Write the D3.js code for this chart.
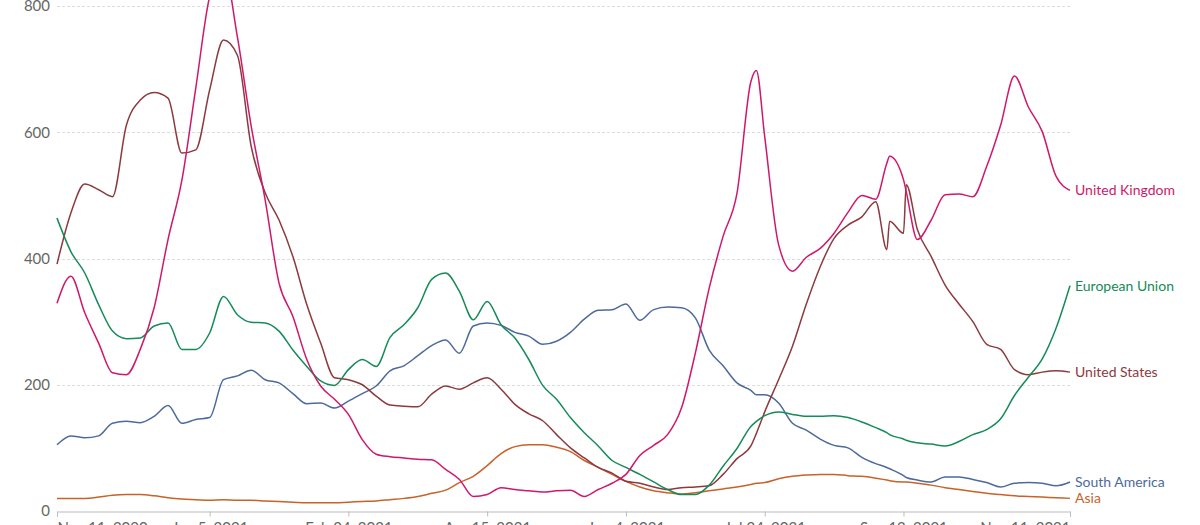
<!DOCTYPE html>
<html>
<head>
<meta charset="utf-8">
<script src="https://cdn.jsdelivr.net/npm/d3@7"></script>
<style>
  html, body { margin: 0; padding: 0; background: #fff; }
  svg { display: block; font-family: Lato, "Noto Sans", sans-serif; }
</style>
</head>
<body>
<svg id="chart" width="1200" height="525"></svg>
<script>
// Days after 2020-11-11
const startDate = "2020-11-11";
const dayOffsets = [
  0,5,10,15,20,25,30,35,40,45,50,55,60,65,70,75,80,85,90,95,
  100,105,110,115,120,125,130,135,140,145,150,155,160,165,170,175,180,185,190,195,
  200,205,210,215,220,225,230,235,240,245,250,252,255,260,265,270,275,280,285,290,
  295,299,300,305,306,310,315,320,325,330,335,340,345,350,355,360,365
];

const unitedKingdom = [
  329,372,314,266,219,216,256,322,430,524,670,815,860,751,609,493,361,308,240,198,
  177,153,113,90,86,84,82,81,66,50,23,26,37,34,32,30,32,33,23,34,
  44,58,88,104,121,163,250,353,435,503,680,698,593,422,380,402,416,440,473,500,
  494,551,562,525,506,430,461,501,502,498,546,611,689,640,601,530,508
];
const europeanUnion = [
  464,411,377,327,285,273,274,293,298,256,256,282,340,311,299,298,285,255,229,206,
  199,224,240,229,275,295,322,367,377,348,303,332,295,274,240,199,177,148,124,103,
  80,69,58,46,34,26,26,41,71,99,134,142,151,157,153,150,150,151,148,141,
  132,124,121,114,112,108,106,103,110,121,129,146,183,212,241,290,357
];
const unitedStates = [
  391,472,518,509,498,611,651,663,654,567,572,667,746,722,577,504,461,403,327,266,
  211,208,200,182,168,166,165,185,198,193,203,211,193,169,154,143,121,100,84,69,
  60,47,44,38,34,37,38,40,58,83,103,123,157,208,261,328,387,432,453,466,
  490,414,459,440,517,446,403,358,328,300,264,256,224,216,220,222,220
];
const southAmerica = [
  105,119,116,119,139,142,140,150,167,139,145,148,208,214,223,208,203,186,170,171,
  163,174,186,198,222,230,246,262,271,250,293,298,294,283,277,264,269,283,304,318,
  319,328,302,319,323,322,306,255,230,203,191,184,184,171,139,128,114,104,100,85,
  75,69,67,56,53,49,46,54,54,50,45,38,44,45,44,40,46
];
const asia = [
  20,20,20,22,25,26,26,24,21,19,18,17,18,17,17,16,15,14,13,13,
  13,14,15,16,18,20,23,28,33,45,55,72,91,102,105,105,101,94,80,69,
  58,47,38,32,29,27,29,32,35,38,42,44,45,51,55,57,58,58,56,55,
  52,49,48,46,46,44,41,37,34,31,28,26,24,23,22,21,20
];

const seriesNames = ["United Kingdom", "European Union", "United States", "South America", "Asia"];
const seriesValues = [unitedKingdom, europeanUnion, unitedStates, southAmerica, asia];
const seriesColors = ["#D0186A", "#158B58", "#8C3A3E", "#4C6A9C", "#C8622A"];

const yTicks = [0, 200, 400, 600, 800];
const xTickLabels = ["Nov 11, 2020", "Jan 5, 2021", "Feb 24, 2021", "Apr 15, 2021", "Jun 4, 2021", "Jul 24, 2021", "Sep 12, 2021", "Nov 11, 2021"];

(function () {
  const parse = d3.timeParse("%b %d, %Y");
  const start = d3.timeParse("%Y-%m-%d")(startDate);
  const dates = dayOffsets.map(d => d3.timeDay.offset(start, d));

  const svg = d3.select("#chart");
  const mLeft = 57, mRight = 1070, mTop = 6, mBottom = 511;

  const x = d3.scaleTime()
    .domain([parse(xTickLabels[0]), parse(xTickLabels[xTickLabels.length - 1])])
    .range([mLeft, mRight]);
  const y = d3.scaleLinear().domain([0, 800]).range([mBottom, mTop]);

  // gridlines
  svg.append("g").selectAll("line")
    .data(yTicks.filter(t => t > 0))
    .join("line")
    .attr("x1", mLeft).attr("x2", mRight)
    .attr("y1", d => Math.round(y(d)) + 0.5).attr("y2", d => Math.round(y(d)) + 0.5)
    .attr("stroke", "#dddddd").attr("stroke-width", 1)
    .attr("stroke-dasharray", "3,2");

  // y labels
  svg.append("g").selectAll("text")
    .data(yTicks)
    .join("text")
    .attr("x", 50).attr("y", d => y(d))
    .attr("dy", "0.35em")
    .attr("text-anchor", "end")
    .attr("fill", "#666")
    .attr("font-size", 15)
    .text(d => d);

  // x axis
  const xAxis = d3.axisBottom(x)
    .tickValues(xTickLabels.map(parse))
    .tickSize(5)
    .tickPadding(6)
    .tickFormat((d, i) => xTickLabels[i]);
  const gx = svg.append("g").attr("transform", `translate(0,${mBottom + 0.5})`).call(xAxis);
  gx.select(".domain").attr("stroke", "#bbb");
  gx.selectAll(".tick line").attr("stroke", "#bbb");
  gx.selectAll(".tick text")
    .attr("fill", "#666")
    .attr("font-size", 15)
    .attr("font-family", "Lato, sans-serif")
    .attr("text-anchor", (d, i) => i === 0 ? "start" : (i === xTickLabels.length - 1 ? "end" : "middle"));

  // lines
  const line = d3.line()
    .x(d => x(d[0]))
    .y(d => y(d[1]))
    .curve(d3.curveMonotoneX);

  const drawOrder = [4, 3, 2, 1, 0];
  drawOrder.forEach(i => {
    const pts = dates.map((d, k) => [d, seriesValues[i][k]]).filter(p => p[1] != null);
    svg.append("path")
      .attr("d", line(pts))
      .attr("fill", "none")
      .attr("stroke", seriesColors[i])
      .attr("stroke-width", 1.5)
      .attr("stroke-linejoin", "round");
  });

  // end labels
  seriesNames.forEach((name, i) => {
    const vals = seriesValues[i];
    const last = vals[vals.length - 1];
    svg.append("text")
      .attr("x", mRight + 5)
      .attr("y", y(last))
      .attr("dy", "0.35em")
      .attr("fill", seriesColors[i])
      .attr("font-size", 14)
      .text(name);
  });
})();
</script>
</body>
</html>
